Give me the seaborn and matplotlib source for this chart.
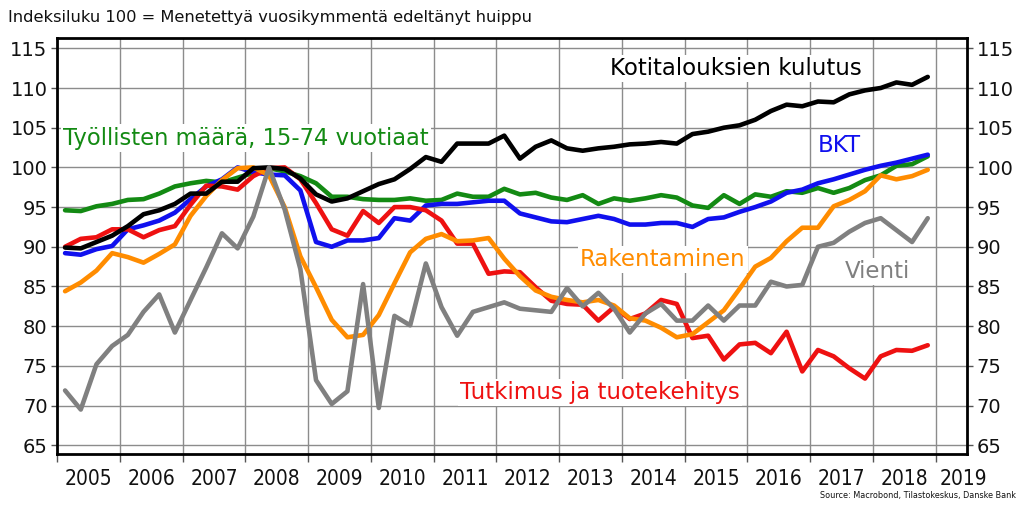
import numpy as np
import pandas as pd
import matplotlib
matplotlib.use("Agg")
import matplotlib.pyplot as plt
import seaborn as sns

# ---- data (quarterly, 2005Q1 .. 2018Q4) ----
years = np.repeat(np.arange(2005, 2019), 4)
quarters = np.tile([1, 2, 3, 4], 14)

kulutus = [89.9, 89.8, 90.6, 91.4, 92.6, 94.1, 94.6, 95.4, 96.7, 96.7, 98.2, 98.2,
           99.9, 100.0, 99.8, 98.6, 96.6, 95.7, 96.1, 97.0, 97.9, 98.5, 99.8, 101.3,
           100.7, 103.0, 103.0, 103.0, 104.0, 101.1, 102.6, 103.4, 102.4, 102.1, 102.4, 102.6,
           102.9, 103.0, 103.2, 103.0, 104.2, 104.5, 105.0, 105.3, 106.0, 107.1, 107.9, 107.7,
           108.3, 108.2, 109.2, 109.7, 110.0, 110.7, 110.4, 111.4]
bkt = [89.2, 89.0, 89.7, 90.1, 92.2, 92.7, 93.3, 94.3, 96.0, 97.6, 98.5, 100.0,
       99.4, 99.1, 99.0, 97.1, 90.6, 90.0, 90.8, 90.8, 91.1, 93.6, 93.3, 95.2,
       95.4, 95.4, 95.6, 95.8, 95.8, 94.2, 93.7, 93.2, 93.1, 93.5, 93.9, 93.5,
       92.8, 92.8, 93.0, 93.0, 92.5, 93.5, 93.7, 94.4, 95.0, 95.7, 96.8, 97.2,
       98.0, 98.5, 99.1, 99.7, 100.2, 100.6, 101.1, 101.6]
tyolliset = [94.6, 94.5, 95.1, 95.4, 95.9, 96.0, 96.7, 97.6, 98.0, 98.3, 98.1, 98.7,
             99.3, 99.9, 99.5, 98.9, 98.0, 96.3, 96.3, 96.0, 95.9, 95.9, 96.1, 95.8,
             95.9, 96.7, 96.3, 96.3, 97.3, 96.6, 96.8, 96.2, 95.9, 96.5, 95.4, 96.1,
             95.8, 96.1, 96.5, 96.2, 95.2, 94.9, 96.5, 95.4, 96.6, 96.3, 97.0, 96.8,
             97.4, 96.8, 97.4, 98.4, 99.0, 100.2, 100.4, 101.4]
tutkimus = [90.0, 91.0, 91.2, 92.2, 92.2, 91.2, 92.1, 92.6, 95.3, 97.7, 97.6, 97.2,
            98.9, 99.9, 100.0, 98.5, 95.5, 92.2, 91.4, 94.5, 93.0, 95.0, 95.0, 94.6,
            93.3, 90.4, 90.4, 86.6, 86.9, 86.8, 84.9, 83.2, 82.8, 82.7, 80.7, 82.4,
            80.9, 81.6, 83.3, 82.8, 78.5, 78.8, 75.8, 77.7, 77.9, 76.6, 79.3, 74.3,
            77.0, 76.2, 74.7, 73.4, 76.2, 77.0, 76.9, 77.6]
rakentaminen = [84.4, 85.5, 87.0, 89.2, 88.7, 88.0, 89.1, 90.3, 93.9, 96.4, 98.4, 99.9,
                100.0, 99.0, 95.0, 88.8, 84.9, 80.8, 78.6, 78.9, 81.4, 85.4, 89.3, 91.0,
                91.6, 90.7, 90.8, 91.1, 88.5, 86.3, 84.5, 83.7, 83.3, 83.0, 83.3, 82.6,
                81.0, 80.7, 79.8, 78.6, 79.0, 80.5, 82.0, 84.7, 87.5, 88.6, 90.7, 92.4,
                92.4, 95.1, 95.9, 97.0, 99.0, 98.5, 98.9, 99.7]
vienti = [71.9, 69.5, 75.2, 77.5, 78.9, 81.8, 84.0, 79.2, 83.3, 87.4, 91.7, 89.8,
          93.8, 100.0, 94.7, 87.2, 73.2, 70.2, 71.8, 85.3, 69.7, 81.3, 80.1, 87.9,
          82.4, 78.8, 81.8, 82.4, 83.0, 82.2, 82.0, 81.8, 84.8, 82.5, 84.2, 82.2,
          79.2, 81.6, 82.8, 80.7, 80.7, 82.6, 80.7, 82.6, 82.6, 85.6, 85.0, 85.2,
          90.0, 90.5, 91.9, 93.0, 93.6, 92.1, 90.6, 93.6]

series_names = ["Työllisten määrä, 15-74 vuotiaat", "BKT", "Tutkimus ja tuotekehitys",
                "Rakentaminen", "Kotitalouksien kulutus", "Vienti"]
series_values = [tyolliset, bkt, tutkimus, rakentaminen, kulutus, vienti]
series_colors = ["#138a13", "#1010ee", "#ee1111", "#ff8c00", "#000000", "#808080"]
year_labels = [str(y) for y in range(2005, 2020)]
y_ticks = list(range(65, 120, 5))

x = years + (quarters - 0.5) / 4.0
rows = []
for name, vals in zip(series_names, series_values):
    for xi, v in zip(x, vals):
        rows.append({"x": xi, "value": v, "series": name})
df = pd.DataFrame(rows)

sns.set_theme(style="white")
plt.rcParams["font.family"] = ["DejaVu Sans"]

fig = plt.figure(figsize=(10.24, 5.12), dpi=100)
ax = fig.add_axes([0.0559, 0.1133, 0.8884, 0.8125])

palette = dict(zip(series_names, series_colors))
sns.lineplot(data=df, x="x", y="value", hue="series", hue_order=series_names,
             palette=palette, linewidth=3.3, legend=False, ax=ax, sort=False)

ax.set_xlim(2005, 2019.5)
ax.set_ylim(63.9, 116.3)
ax.set_xlabel("")
ax.set_ylabel("")

# grid lines
ax.set_xticks(range(2005, 2020))
ax.set_xticklabels([])
ax.set_yticks(y_ticks)
ax.grid(True, color="#8c8c8c", linewidth=1.0)
ax.set_axisbelow(True)

# year labels at mid-year
label_pos = [y + 0.5 for y in range(2005, 2019)] + [2019.45]
for pos, lab in zip(label_pos, year_labels):
    ax.text(pos, -0.035, lab, transform=ax.get_xaxis_transform(), ha="center", va="top",
            fontsize=15, fontstretch="condensed", color="#111111")

ax.tick_params(axis="x", which="major", direction="out", length=6, width=1, color="#555555", bottom=True)
ax.tick_params(axis="y", which="major", direction="out", length=4, width=1, color="#555555",
               left=True, right=True, labelleft=True, labelright=True, labelsize=14,
               labelcolor="#111111", pad=3)

for s in ax.spines.values():
    s.set_color("#000000")
    s.set_linewidth(2.0)

# series labels
box = dict(facecolor="white", edgecolor="none", pad=1.5)
ax.text(2013.81, 112.5, "Kotitalouksien kulutus", color="#000000", fontsize=16.5,
        ha="left", va="center", bbox=box)
ax.text(2005.09, 103.7, "Työllisten määrä, 15-74 vuotiaat", color="#138a13", fontsize=16.3,
        ha="left", va="center", bbox=box)
ax.text(2017.12, 102.7, "BKT", color="#1010ee", fontsize=16.5, ha="left", va="center", bbox=box)
ax.text(2013.33, 88.4, "Rakentaminen", color="#ff8c00", fontsize=16.5, ha="left", va="center", bbox=box)
ax.text(2017.55, 86.9, "Vienti", color="#808080", fontsize=16.5, ha="left", va="center", bbox=box)
ax.text(2011.42, 71.7, "Tutkimus ja tuotekehitys", color="#ee1111", fontsize=16.5,
        ha="left", va="center", bbox=box)

fig.text(0.008, 0.965, "Indeksiluku 100 = Menetettyä vuosikymmentä edeltänyt huippu",
         fontsize=11.7, ha="left", va="center", color="#111111")
fig.text(0.992, 0.033, "Source: Macrobond, Tilastokeskus, Danske Bank", fontsize=6.5,
         fontstretch="condensed", ha="right", va="center", color="#111111")

fig.savefig("out.png", dpi=100)
